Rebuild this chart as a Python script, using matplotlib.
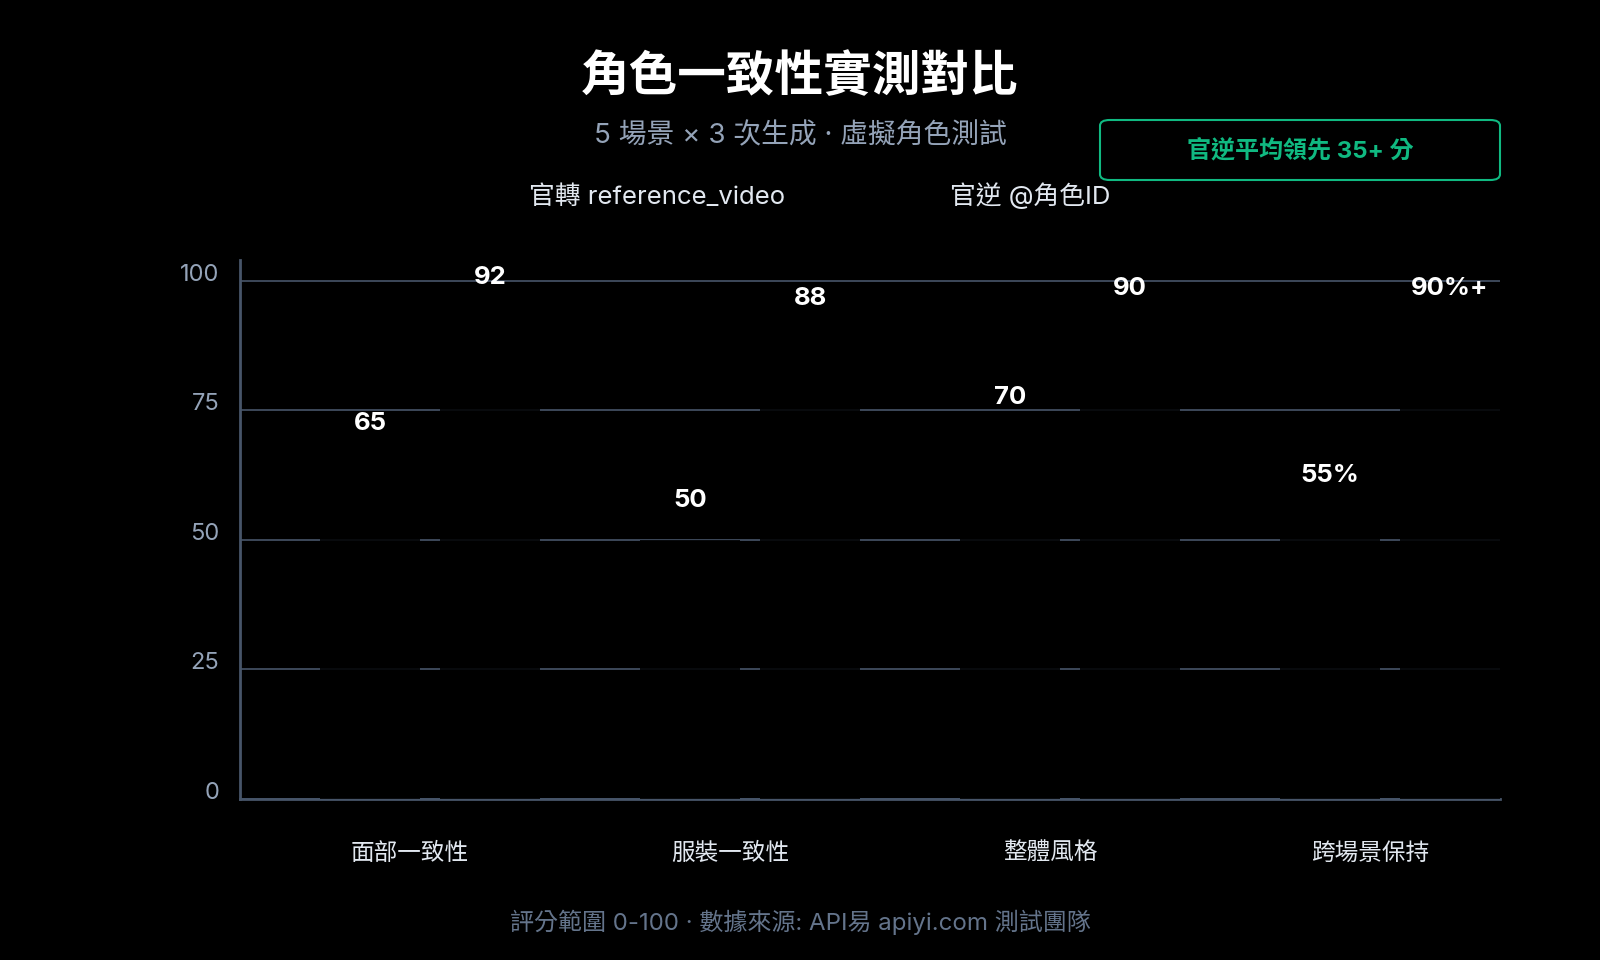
import numpy as np
import matplotlib
matplotlib.use("Agg")
import matplotlib.pyplot as plt
from matplotlib.patches import FancyBboxPatch

plt.rcParams['font.family'] = ['Inter', 'Noto Sans CJK TC', 'DejaVu Sans']

# data
categories = ["面部一致性", "服裝一致性", "整體風格", "跨場景保持"]
series_names = ["官轉 reference_video", "官逆 @角色ID"]
ref_video = [65, 50, 70, 55]
role_id = [92, 88, 90, 90]
ref_labels = ["65", "50", "70", "55%"]
role_labels = ["92", "88", "90", "90%+"]

bg = "#000000"
grid_c = "#475569"

fig = plt.figure(figsize=(16, 9.6), dpi=100, facecolor=bg)
ax = fig.add_axes([0.15, 1 - 799 / 960, 0.9375 - 0.15, (799 - 260) / 960])
ax.set_facecolor(bg)

x = np.arange(len(categories))
w = 0.3125
b1 = ax.bar(x - 0.1875, ref_video, w, color="#000000", alpha=0.85,
            linewidth=0, zorder=3, label=series_names[0])
b2 = ax.bar(x + 0.1875, role_id, w, color="#000000", alpha=0.85,
            linewidth=0, zorder=3, label=series_names[1])

for bars, labs, off in ((b1, ref_labels, 28), (b2, role_labels, 32)):
    for r, t in zip(bars, labs):
        ax.annotate(t, (r.get_x() + r.get_width() / 2, r.get_height()),
                    xytext=(0, off), textcoords="offset points",
                    ha="center", va="center", color="white",
                    fontsize=18.5, fontweight="bold", zorder=5)

ax.set_xlim(-0.594, 3.344)
ax.set_ylim(0, 104)
ax.set_yticks([0, 25, 50, 75, 100])
ax.set_xticks(x - 0.0625, categories)
ax.tick_params(axis="x", length=0, pad=31.5, labelsize=17, labelcolor="#e2e8f0")
ax.tick_params(axis="y", length=0, pad=15, labelsize=17, labelcolor="#94a3b8")
for lab in ax.get_yticklabels():
    lab.set_verticalalignment("baseline")

ax.set_axisbelow(True)
ax.grid(axis="y", color=grid_c, linewidth=1.2)
for s in ["top", "right"]:
    ax.spines[s].set_visible(False)
for s in ["left", "bottom"]:
    ax.spines[s].set_color(grid_c)
    ax.spines[s].set_linewidth(2)

leg = ax.legend(loc="center", bbox_to_anchor=(0.49, 1 - 196 / 960),
                bbox_transform=fig.transFigure, ncol=2, frameon=False,
                fontsize=18.5, columnspacing=3.6, handletextpad=0.8)
for t in leg.get_texts():
    t.set_color("#e2e8f0")

fig.text(0.5, 1 - 78 / 960, "角色一致性實測對比", ha="center", va="center",
         color="white", fontsize=35, fontweight="bold")
fig.text(0.5, 1 - 136 / 960, "5 場景 × 3 次生成 · 虛擬角色測試", ha="center",
         va="center", color="#94a3b8", fontsize=20)
fig.text(0.5, 1 - 922 / 960, "評分範圍 0-100 · 數據來源: API易 apiyi.com 測試團隊",
         ha="center", va="center", color="#64748b", fontsize=17.3)

# badge
box = FancyBboxPatch((1100 / 1600, 1 - 180 / 960), 400 / 1600, 60 / 960,
                     boxstyle="round,pad=0,rounding_size=0.006",
                     transform=fig.transFigure, facecolor="none",
                     edgecolor="#10b981", linewidth=1.5)
fig.patches.append(box)
fig.text(1300 / 1600, 1 - 152 / 960, "官逆平均領先 35+ 分", ha="center",
         va="center", color="#10b981", fontsize=17.3, fontweight="bold")

fig.savefig("out.png", dpi=100, facecolor=bg)
